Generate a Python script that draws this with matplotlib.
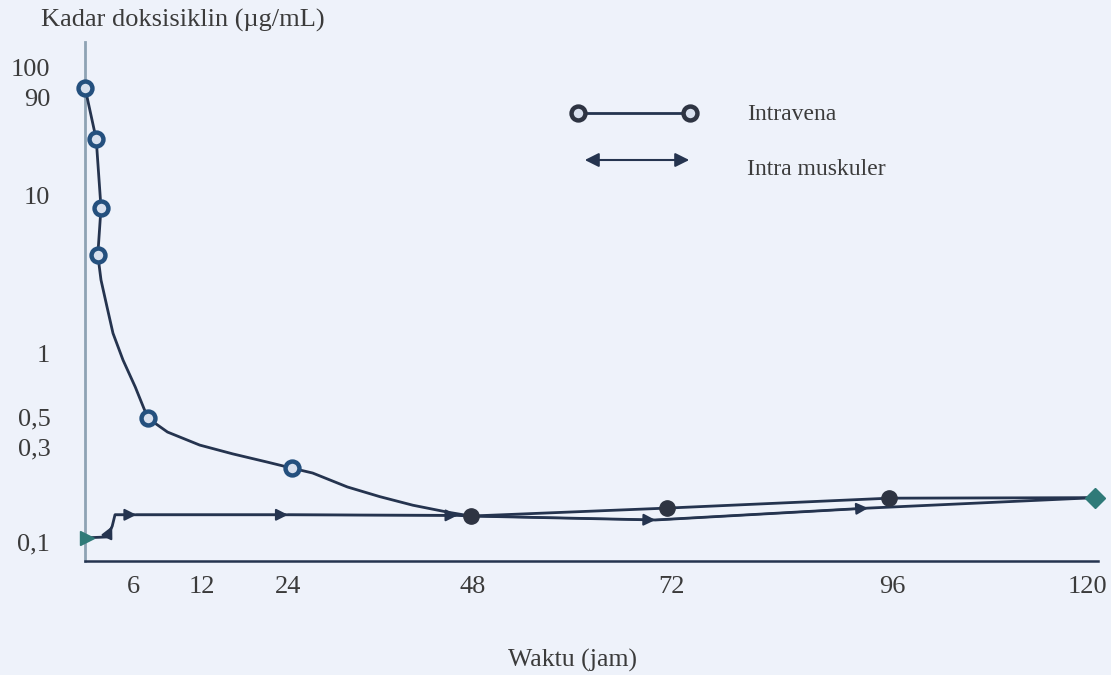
import numpy as np
import matplotlib
matplotlib.use('Agg')
import matplotlib.pyplot as plt
from matplotlib.ticker import NullLocator, FixedLocator

plt.rcParams['font.family'] = ['Liberation Serif', 'DejaVu Serif']

# intravena - measured points (circle markers)
iv_t = [0, 1.4, 2.0, 1.6, 7.3, 24.5]
iv_c = [93, 35, 8.3, 4.2, 0.49, 0.235]
iv_t_late = [47.7, 71.4, 95.7]
iv_c_late = [0.135, 0.148, 0.166]
# intravena - points
iv_line_t = [0, 1.4, 2.0, 1.6, 2.0, 2.75, 3.5, 4.75, 6.2, 6.9, 7.3, 9.0, 11.8, 16.3, 21.1,
             24.5, 27.2, 31.7, 35.9, 40.2, 44.6, 47.7, 71.4, 95.7, 121]
iv_line_c = [93, 35, 8.3, 4.2, 2.92, 1.98, 1.35, 0.936, 0.695, 0.558, 0.49, 0.387, 0.31, 0.277, 0.252,
             0.235, 0.222, 0.189, 0.169, 0.153, 0.1415, 0.135, 0.148, 0.166, 0.167]

# intra muskuler
im_t = [0.25, 2.75, 3.4, 3.75, 6.3, 24, 46, 47.7, 70, 93.4, 121]
im_c = [0.105, 0.106, 0.12, 0.137, 0.137, 0.137, 0.136, 0.135, 0.129, 0.148, 0.167]
im_arrows = [2, 4, 5, 6, 8, 9]   # index of arrow heads

xticks = [6, 12, 24, 48, 72, 96, 120]
yticks = [0.1, 0.3, 0.5, 1, 10, 90, 100]
ylabels = ['0,1', '0,3', '0,5', '1', '10', '90', '100']

# hand drawn axis: tick spacing is not regular, map ticks to where they sit
W, H = 1111, 675
x_anchor_val = [-6, 0, 6, 12, 24, 48, 72, 96, 120, 132]
x_anchor_px = [37, 85, 133, 202, 288, 473, 672, 892, 1087, 1185]
y_anchor_log = [-2, -1, np.log10(0.3), np.log10(0.5), 0, 1, np.log10(90), 2, 3]
y_anchor_px = [741, 542, 447, 417, 354, 195, 97, 67, -61]
y_anchor_pos = [-p for p in y_anchor_px]

def xf(v):
    return np.interp(v, x_anchor_val, x_anchor_px)
def xi(p):
    return np.interp(p, x_anchor_px, x_anchor_val)
def yf(v):
    v = np.clip(np.asarray(v, dtype=float), 1e-6, None)
    return np.interp(np.log10(v), y_anchor_log, y_anchor_pos)
def yi(p):
    return 10 ** np.interp(p, y_anchor_pos, y_anchor_log)

bg = '#eef2fa'
navy = '#25344f'
txt = '#3b3b3b'

fig = plt.figure(figsize=(W / 100, H / 100), dpi=100, facecolor=bg)
left, right, top, bottom = 85, 1098, 42, 561
ax = fig.add_axes([left / W, 1 - bottom / H, (right - left) / W, (bottom - top) / H])
ax.set_facecolor(bg)
ax.set_xscale('function', functions=(xf, xi))
ax.set_yscale('function', functions=(yf, yi))
ax.set_xlim(float(xi(left)), float(xi(right)))
ax.set_ylim(float(yi(-bottom)), float(yi(-top)))

# intravena curve
ax.plot(iv_line_t, iv_line_c, color=navy, lw=2, zorder=3, solid_joinstyle='round')
ax.plot(iv_t, iv_c, 'o', ms=10, mfc='#d8e0ee', mec='#24507e', mew=3.2, zorder=5, clip_on=False)
ax.plot(iv_t_late, iv_c_late, 'o', ms=11, color='#2e3442', zorder=5)

# intra muskuler with arrow heads
ax.plot(im_t, im_c, color=navy, lw=2, zorder=2)
for i in im_arrows:
    ax.annotate('', xy=(im_t[i], im_c[i]), xytext=(im_t[i - 1], im_c[i - 1]),
                arrowprops=dict(arrowstyle='-|>,head_length=0.7,head_width=0.35',
                                color=navy, lw=1.5, shrinkA=0, shrinkB=0), zorder=4)
ax.plot(im_t[0], im_c[0], '>', ms=10, color='#2f7a78', zorder=5, clip_on=False)
ax.plot(im_t[-1], im_c[-1], 'D', ms=10, color='#2f7a78', zorder=5, clip_on=False)

# axes
for s in ['top', 'right']:
    ax.spines[s].set_visible(False)
ax.spines['left'].set_color('#8ea3b4')
ax.spines['left'].set_linewidth(2)
ax.spines['bottom'].set_color(navy)
ax.spines['bottom'].set_linewidth(1.8)
ax.xaxis.set_major_locator(FixedLocator(xticks))
ax.xaxis.set_minor_locator(NullLocator())
ax.set_xticklabels([str(v) for v in xticks])
ax.yaxis.set_major_locator(FixedLocator(yticks))
ax.yaxis.set_minor_locator(NullLocator())
ax.set_yticklabels(ylabels)
ax.tick_params(axis='x', length=0, pad=11, labelsize=19, labelcolor=txt)
ax.tick_params(axis='y', length=0, pad=25, labelsize=19, labelcolor=txt)

fig.text(183 / W, 1 - 20 / H, 'Kadar doksisiklin (µg/mL)', ha='center', va='center',
         fontsize=19, color=txt)
fig.text(572 / W, 1 - 660 / H, 'Waktu (jam)', ha='center', va='center',
         fontsize=18.5, color=txt)

# legend drawn by hand
fig.lines.append(plt.Line2D([578 / W, 690 / W], [1 - 113 / H, 1 - 113 / H], color=navy, lw=2,
                            marker='o', ms=10, mfc='#d8e0ee', mec='#2e3442', mew=3.2,
                            transform=fig.transFigure))
fig.text(747 / W, 1 - 115 / H, 'Intravena', ha='left', va='center', fontsize=17, color=txt)
fig.patches.append(matplotlib.patches.FancyArrowPatch(
    (582 / W, 1 - 160 / H), (692 / W, 1 - 160 / H), transform=fig.transFigure,
    arrowstyle='<|-|>,head_length=0.7,head_width=0.35', color=navy, lw=1.5,
    mutation_scale=12))
fig.text(747 / W, 1 - 170 / H, 'Intra muskuler', ha='left', va='center', fontsize=17, color=txt)

fig.savefig('out.png', dpi=100, facecolor=bg)
